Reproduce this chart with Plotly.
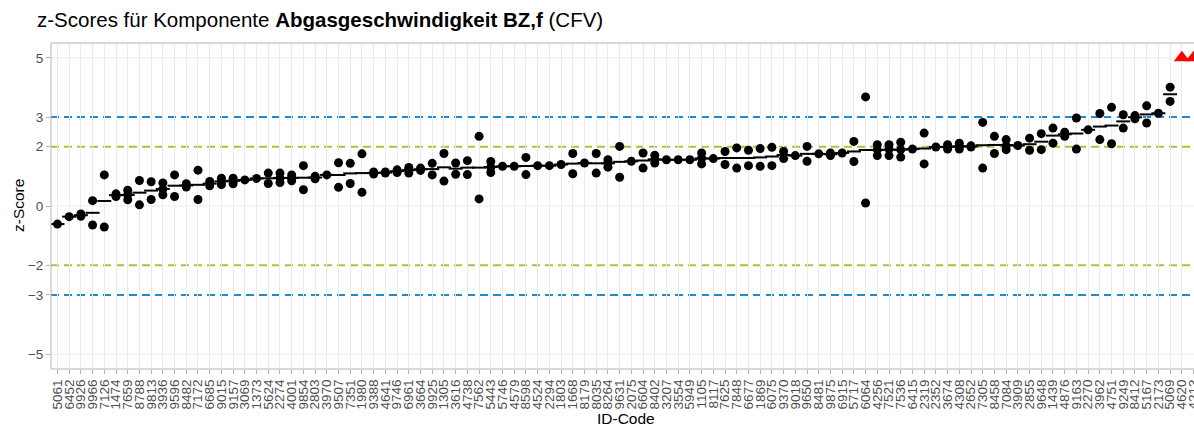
import numpy as np
import plotly.graph_objects as go

# ---------------- data ----------------
ids = [
    "5061", "6452", "9926", "9966", "7126", "1474", "7659", "8788", "9813", "3936",
    "9596", "8482", "7172", "6685", "9015", "9157", "3069", "1373", "5624", "2274",
    "4001", "9854", "2803", "3970", "9507", "7351", "1980", "9388", "4641", "9746",
    "6961", "3664", "9925", "1305", "3616", "4738", "7562", "5443", "5746", "4579",
    "8598", "4524", "2294", "1803", "1668", "8179", "8035", "8264", "9631", "2075",
    "6604", "8402", "3207", "3554", "5949", "1105", "8117", "7625", "7848", "6677",
    "1869", "6075", "9370", "9018", "9650", "8481", "9875", "6915", "5717", "6064",
    "4256", "7521", "7536", "6415", "2319", "2352", "3674", "4308", "2652", "7305",
    "8458", "7084", "3909", "2855", "9648", "1439", "4876", "9163", "2270", "3962",
    "4751", "9249", "8412", "5167", "2173", "5069", "4620", "4213",
]

z_values = [
    [-0.61], [-0.36], [-0.27, -0.35], [0.18, -0.64], [1.05, -0.71],
    [0.41, 0.32], [0.53, 0.38, 0.21], [0.86, 0.04], [0.82, 0.22], [0.78, 0.57, 0.38],
    [1.05, 0.32], [0.75, 0.64], [1.21, 0.22], [0.83, 0.68], [0.94, 0.83, 0.72],
    [0.94, 0.86, 0.75], [0.88], [0.93], [1.11, 0.76], [1.11, 0.94, 0.79],
    [1.05, 0.94, 0.85], [1.36, 0.55], [1.00, 0.92], [1.05], [1.46, 0.63],
    [1.44, 0.76], [1.76, 0.46], [1.15, 1.08], [1.15, 1.11], [1.22, 1.13],
    [1.30, 1.22, 1.11], [1.28, 1.20], [1.44, 1.05], [1.77, 0.84], [1.45, 1.07],
    [1.53, 1.06], [2.35, 0.24], [1.50, 1.31, 1.13], [1.34], [1.34],
    [1.64, 1.06], [1.36], [1.36], [1.40], [1.77, 1.09],
    [1.45], [1.77, 1.11], [1.56, 1.45, 1.31], [2.01, 0.97], [1.51],
    [1.79, 1.28], [1.71, 1.56, 1.45], [1.56], [1.56], [1.56],
    [1.79, 1.61, 1.42], [1.60], [1.84, 1.40], [1.96, 1.28], [1.88, 1.36],
    [1.94, 1.34], [1.98, 1.36], [1.84, 1.60], [1.70], [2.01, 1.51],
    [1.76], [1.79, 1.70], [1.79], [2.18, 1.50], [3.68, 0.10],
    [2.07, 1.90, 1.70], [2.07, 1.92, 1.70], [2.15, 1.90, 1.65], [1.92], [2.46, 1.42],
    [1.99], [2.07, 1.92], [2.12, 2.01, 1.92], [2.03, 1.99], [2.82, 1.28],
    [2.35, 1.77], [2.24, 2.03, 1.90], [2.04], [2.29, 1.88], [2.44, 1.90],
    [2.63, 2.12], [2.49, 2.35], [2.97, 1.92], [2.57], [3.12, 2.24],
    [3.33, 2.10], [3.08, 2.63], [3.05, 2.94], [3.38, 2.80], [3.13],
    [4.01, 3.53], [5.8], [6.4],
]

y_ticks = [5, 3, 2, 0, -2, -3, -5]
grid_only = [5, 0, -5]
warn_limit = 2
action_limit = 3
cap = 5

# ---------------- derived ----------------
x_pts, y_pts, x_out, y_out, x_mean, y_mean = [], [], [], [], [], []
for cid, vals in zip(ids, z_values):
    m = float(np.mean(vals))
    x_mean.append(cid)
    y_mean.append(m)
    for v in vals:
        if v > cap:
            x_out.append(cid)
            y_out.append(cap)
        else:
            x_pts.append(cid)
            y_pts.append(v)

FONT = "Liberation Sans, Arial, sans-serif"
W, H = 1194, 426
L, R, T, B = 51, 0, 43, 57
GRID = "#EBEBEB"

fig = go.Figure()
fig.add_trace(go.Scatter(
    x=x_mean, y=y_mean, mode="markers",
    marker=dict(symbol="line-ew", size=10, line=dict(color="black", width=2)),
    hoverinfo="skip", showlegend=False,
))
fig.add_trace(go.Scatter(
    x=x_pts, y=y_pts, mode="markers",
    marker=dict(symbol="circle", size=9, color="black"),
    showlegend=False,
))
fig.add_trace(go.Scatter(
    x=x_out, y=y_out, mode="markers",
    marker=dict(symbol="triangle-up", size=14, color="#FF0000"),
    showlegend=False, cliponaxis=False,
))

# horizontal grid lines (those under the limit lines are hidden anyway)
for g in grid_only:
    fig.add_shape(type="line", xref="paper", x0=0, x1=1, yref="y", y0=g, y1=g,
                  layer="below", line=dict(color=GRID, width=1))

for lim, col in [(warn_limit, "#9ACD32"), (action_limit, "#1F8AD6")]:
    for s in (1, -1):
        fig.add_shape(type="line", xref="paper", x0=0, x1=1, yref="y",
                      y0=s * lim, y1=s * lim, layer="below",
                      line=dict(color=col, width=2, dash="8px,5px"))

# panel border (right side lies outside the picture)
fig.add_shape(type="rect", xref="paper", yref="paper", x0=0, x1=1.02, y0=0, y1=1,
              line=dict(color="#B3B3B3", width=1), layer="above")

plot_w = W - L - R
plot_h = H - T - B

fig.update_layout(
    width=W, height=H,
    margin=dict(l=L, r=R, t=T, b=B, pad=0, autoexpand=False),
    paper_bgcolor="white", plot_bgcolor="white",
    font=dict(family=FONT, color="black"),
    title=dict(
        text="z-Scores für Komponente <b>Abgasgeschwindigkeit BZ,f</b> (CFV)",
        x=37 / W, xref="container", xanchor="left",
        y=1 - 20 / H, yref="container", yanchor="middle",
        font=dict(size=20.5, color="black", family=FONT),
    ),
    xaxis=dict(
        type="category", categoryorder="array", categoryarray=ids,
        tickmode="array", tickvals=ids, ticktext=ids,
        range=[-0.55, 97.04], automargin=False,
        tickangle=-90, tickfont=dict(size=13.5, color="#4D4D4D", family=FONT),
        ticks="outside", ticklen=4, tickcolor="#B3B3B3", tickwidth=1,
        showgrid=True, gridcolor=GRID, gridwidth=1,
        zeroline=False, showline=False,
    ),
    yaxis=dict(
        range=[-5.5, 5.5], tickvals=y_ticks, automargin=False,
        tickfont=dict(size=13.5, color="#4D4D4D", family=FONT),
        ticks="outside", ticklen=4, tickcolor="#B3B3B3", tickwidth=1,
        showgrid=False,
        zeroline=False, showline=False,
    ),
    annotations=[
        dict(text="ID-Code", xref="paper", yref="paper",
             x=(626 - L) / plot_w, y=-(418 - (H - B)) / plot_h,
             xanchor="center", yanchor="middle", showarrow=False,
             font=dict(size=15.5, color="black", family=FONT)),
        dict(text="z-Score", xref="paper", yref="paper",
             x=-(L - 18) / plot_w, y=0.5, textangle=-90,
             xanchor="center", yanchor="middle", showarrow=False,
             font=dict(size=15.5, color="black", family=FONT)),
    ],
)

fig.write_html("out.html", config={"displayModeBar": False},
               post_script="document.body.style.margin='0';")
